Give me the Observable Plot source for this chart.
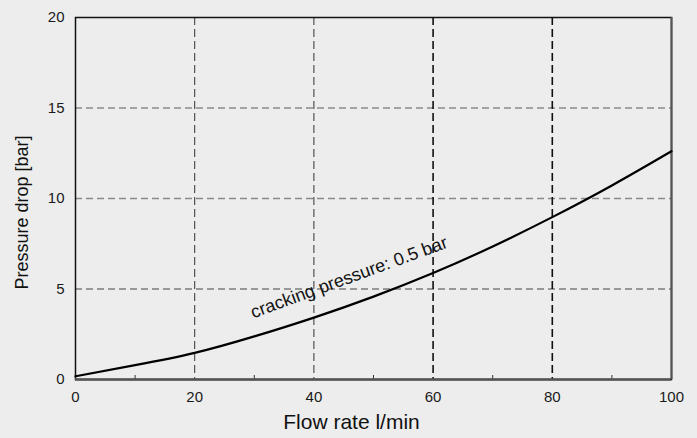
<!DOCTYPE html>
<html>
<head>
<meta charset="utf-8">
<script src="https://cdn.jsdelivr.net/npm/d3@7"></script>
<script src="https://cdn.jsdelivr.net/npm/@observablehq/plot@0.6"></script>
<style>
  html, body { margin: 0; padding: 0; background: #ecedec; }
</style>
</head>
<body>
<div id="chart"></div>
<script>
const flowRate = [0, 10, 20, 30, 40, 50, 60, 70, 80, 90, 100];
const pressureDrop = [0.18, 0.79, 1.47, 2.38, 3.42, 4.58, 5.88, 7.35, 8.97, 10.72, 12.61];
const xTicks = [0, 20, 40, 60, 80, 100];
const yTicks = [0, 5, 10, 15, 20];
const xMinorTicks = [10, 30, 50, 70, 90];
const gridXThin = [20, 40];
const gridXBold = [60, 80];
const gridYLight = [10, 15];
const gridYDark = [5];
const annotation = [{x: 45.9, y: 5.64, text: "cracking pressure: 0.5 bar"}];
const xLabel = "Flow rate l/min";
const yLabel = "Pressure drop [bar]";

const data = flowRate.map((x, i) => ({x, y: pressureDrop[i]}));

const chart = Plot.plot({
  width: 697,
  height: 438,
  marginLeft: 75,
  marginRight: 26,
  marginTop: 17,
  marginBottom: 59,
  style: {background: "#ecedec", fontFamily: "'Liberation Sans', Arial, sans-serif", color: "#1a1a1a"},
  x: {domain: [0, 100]},
  y: {domain: [0, 20]},
  marks: [
    Plot.ruleY(gridYLight, {y: d => d, stroke: "#8a8a8a", strokeWidth: 1.4, strokeDasharray: "7,4"}),
    Plot.ruleY(gridYDark, {y: d => d, stroke: "#444", strokeWidth: 1.2, strokeDasharray: "7,4"}),
    Plot.ruleX(gridXThin, {x: d => d, stroke: "#333", strokeWidth: 1, strokeDasharray: "8,4"}),
    Plot.ruleX(gridXBold, {x: d => d, stroke: "#111", strokeWidth: 1.6, strokeDasharray: "8,4"}),
    Plot.axisX(xMinorTicks, {tickSize: -4, text: null, label: null, stroke: "#333"}),
    Plot.axisX(xTicks, {tickSize: 0, tickPadding: 12, fontSize: 15, label: null}),
    Plot.axisY(yTicks, {tickSize: 0, tickPadding: 11, fontSize: 15, label: null}),
    Plot.frame({stroke: "#111", strokeWidth: 1.5}),
    Plot.ruleY([0], {stroke: "#555", strokeWidth: 2.5}),
    Plot.ruleX([100], {stroke: "#555", strokeWidth: 2}),
    Plot.line(data, {x: "x", y: "y", curve: "natural", stroke: "#000", strokeWidth: 2.2}),
    Plot.text(annotation, {x: "x", y: "y", text: "text", rotate: -20, fontSize: 18, fill: "#111"}),
    Plot.text([xLabel], {frameAnchor: "bottom-left", textAnchor: "middle", dx: 276, dy: 49, fontSize: 21, fill: "#111"}),
    Plot.text([yLabel], {frameAnchor: "left", textAnchor: "middle", dx: -53, dy: 14, rotate: -90, fontSize: 18, fill: "#111"})
  ]
});
document.getElementById("chart").append(chart);
</script>
</body>
</html>
